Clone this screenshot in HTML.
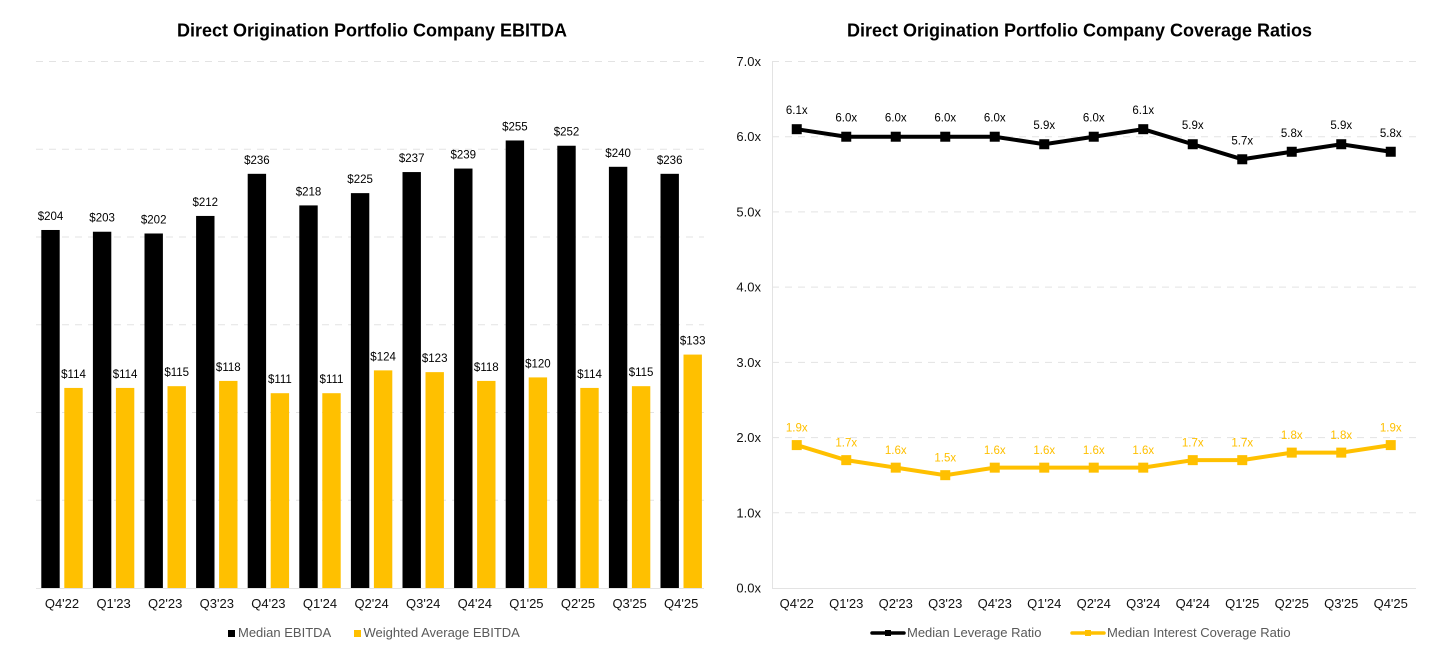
<!DOCTYPE html>
<html lang="en">
<head>
<meta charset="utf-8">
<title>Direct Origination Portfolio Company Charts</title>
<style>
html,body{margin:0;padding:0;background:#fff;width:1456px;height:663px;overflow:hidden}
svg{display:block;font-family:"Liberation Sans",Arial,sans-serif}
</style>
</head>
<body>
<svg id="chart" xmlns="http://www.w3.org/2000/svg" width="1456" height="663" viewBox="0 0 1456 663">
  <text x="372" y="36.5" text-anchor="middle" font-size="18" font-weight="700" fill="#000">Direct Origination Portfolio Company EBITDA</text>
  <text x="1079.5" y="36.5" text-anchor="middle" font-size="18" font-weight="700" fill="#000">Direct Origination Portfolio Company Coverage Ratios</text>
  <g id="left-grid"></g>
  <g id="left-bars"></g>
  <g id="left-axis"></g>
  <g id="right-grid"></g>
  <g id="right-axis"></g>
  <g id="right-lines"></g>
  <g>
    <g>
      <rect x="228" y="630" width="7" height="7" fill="#000"/>
      <text x="238" y="637" font-size="13" fill="#595959">Median EBITDA</text>
    </g>
    <g>
      <rect x="354" y="630" width="7" height="7" fill="#FFC000"/>
      <text x="363.5" y="637" font-size="13" fill="#595959">Weighted Average EBITDA</text>
    </g>
  </g>
  <g>
    <g>
      <line x1="872" y1="633" x2="904" y2="633" stroke="#000" stroke-width="3.5" stroke-linecap="round"/>
      <rect x="885" y="630" width="6" height="6" fill="#000"/>
      <text x="907" y="637" font-size="13" fill="#595959">Median Leverage Ratio</text>
    </g>
    <g>
      <line x1="1072" y1="633" x2="1104" y2="633" stroke="#FFC000" stroke-width="3.5" stroke-linecap="round"/>
      <rect x="1085" y="630" width="6" height="6" fill="#FFC000"/>
      <text x="1107" y="637" font-size="13" fill="#595959">Median Interest Coverage Ratio</text>
    </g>
  </g>
</svg>
<script>
const categories = ["Q4'22","Q1'23","Q2'23","Q3'23","Q4'23","Q1'24","Q2'24","Q3'24","Q4'24","Q1'25","Q2'25","Q3'25","Q4'25"];
const medianEbitda = [204,203,202,212,236,218,225,237,239,255,252,240,236];
const weightedEbitda = [114,114,115,118,111,111,124,123,118,120,114,115,133];
const ebitdaTicks = [0,50,100,150,200,250,300];
const leverageRatio = [6.1,6.0,6.0,6.0,6.0,5.9,6.0,6.1,5.9,5.7,5.8,5.9,5.8];
const interestCoverage = [1.9,1.7,1.6,1.5,1.6,1.6,1.6,1.6,1.7,1.7,1.8,1.8,1.9];
const ratioTicks = [0,1,2,3,4,5,6,7];

const NS = 'http://www.w3.org/2000/svg';
const BLACK = '#000000', GOLD = '#FFC000', GRID = '#e3e3e3';
const plotTop = 61.5, plotBottom = 588;

function make(tag, parentId, attrs, content) {
  const el = document.createElementNS(NS, tag);
  for (const k in attrs) el.setAttribute(k, attrs[k]);
  if (content !== undefined) el.textContent = content;
  document.getElementById(parentId).appendChild(el);
  return el;
}
function scale(domainMax) {
  return v => plotBottom - (v / domainMax) * (plotBottom - plotTop);
}

/* Left chart: EBITDA bars */
const yLeft = scale(Math.max(...ebitdaTicks));
const leftStart = 36.2, leftStep = 51.6, barW = 18.4, barGap = 4.6;
const xLeft = i => leftStart + leftStep * (i + 0.5);

ebitdaTicks.forEach(t => {
  if (t === 0) return;
  const g = make('line', 'left-grid', {x1: 36, x2: 704, y1: yLeft(t), y2: yLeft(t), stroke: GRID, 'stroke-width': 1, 'stroke-dasharray': '7 6'});
  
  
});

categories.forEach((c, i) => {
  const cx = xLeft(i);
  const m = medianEbitda[i], w = weightedEbitda[i];
  const b1 = make('rect', 'left-bars', {x: cx - barGap / 2 - barW, y: yLeft(m), width: barW, height: plotBottom - yLeft(m), fill: BLACK});
  
  
  const b2 = make('rect', 'left-bars', {x: cx + barGap / 2, y: yLeft(w), width: barW, height: plotBottom - yLeft(w), fill: GOLD});
  
  
  const l1 = make('text', 'left-bars', {x: cx - barGap / 2 - barW / 2, y: yLeft(m) - 10, 'text-anchor': 'middle', 'font-size': 11.5, fill: BLACK}, '$' + m);
  
  
  const l2 = make('text', 'left-bars', {x: cx + barGap / 2 + barW / 2, y: yLeft(w) - 10, 'text-anchor': 'middle', 'font-size': 11.5, fill: BLACK}, '$' + w);
  
  
  const t = make('text', 'left-axis', {x: cx, y: 608, 'text-anchor': 'middle', 'font-size': 13, fill: '#111111'}, c);
  
  
});
const leftBase = make('line', 'left-axis', {x1: 36, x2: 704, y1: plotBottom + 0.5, y2: plotBottom + 0.5, stroke: GRID, 'stroke-width': 1});



/* Right chart: coverage lines */
const yRight = scale(Math.max(...ratioTicks));
const rightStart = 772, rightStep = 49.5;
const xRight = i => rightStart + rightStep * (i + 0.5);

ratioTicks.forEach(t => {
  if (t !== 0) {
    const g = make('line', 'right-grid', {x1: 772, x2: 1416, y1: yRight(t), y2: yRight(t), stroke: GRID, 'stroke-width': 1, 'stroke-dasharray': '7 6'});
    
    
  }
  const lab = make('text', 'right-axis', {x: 761, y: yRight(t) + 4.5, 'text-anchor': 'end', 'font-size': 13, fill: '#111111'}, t.toFixed(1) + 'x');
  
  
});
const rightV = make('line', 'right-axis', {x1: 772.5, x2: 772.5, y1: plotTop, y2: plotBottom + 1, stroke: GRID, 'stroke-width': 1});


const rightBase = make('line', 'right-axis', {x1: 772, x2: 1416, y1: plotBottom + 0.5, y2: plotBottom + 0.5, stroke: GRID, 'stroke-width': 1});


categories.forEach((c, i) => {
  const t = make('text', 'right-axis', {x: xRight(i), y: 608, 'text-anchor': 'middle', 'font-size': 13, fill: '#111111'}, c);
  
  
});

const leverageLine = make('polyline', 'right-lines', {points: leverageRatio.map((v, i) => xRight(i) + ',' + yRight(v)).join(' '), fill: 'none', stroke: BLACK, 'stroke-width': 4});


const coverageLine = make('polyline', 'right-lines', {points: interestCoverage.map((v, i) => xRight(i) + ',' + yRight(v)).join(' '), fill: 'none', stroke: GOLD, 'stroke-width': 4});



leverageRatio.forEach((v, i) => {
  const p = make('rect', 'right-lines', {x: xRight(i) - 5, y: yRight(v) - 5, width: 10, height: 10, fill: BLACK});
  
  
  const l = make('text', 'right-lines', {x: xRight(i), y: yRight(v) - 15, 'text-anchor': 'middle', 'font-size': 11.5, fill: BLACK}, v.toFixed(1) + 'x');
  
  
});
interestCoverage.forEach((v, i) => {
  const p = make('rect', 'right-lines', {x: xRight(i) - 5, y: yRight(v) - 5, width: 10, height: 10, fill: GOLD});
  
  
  const l = make('text', 'right-lines', {x: xRight(i), y: yRight(v) - 13.5, 'text-anchor': 'middle', 'font-size': 11.5, fill: GOLD}, v.toFixed(1) + 'x');
  
  
});
</script>
</body>
</html>
